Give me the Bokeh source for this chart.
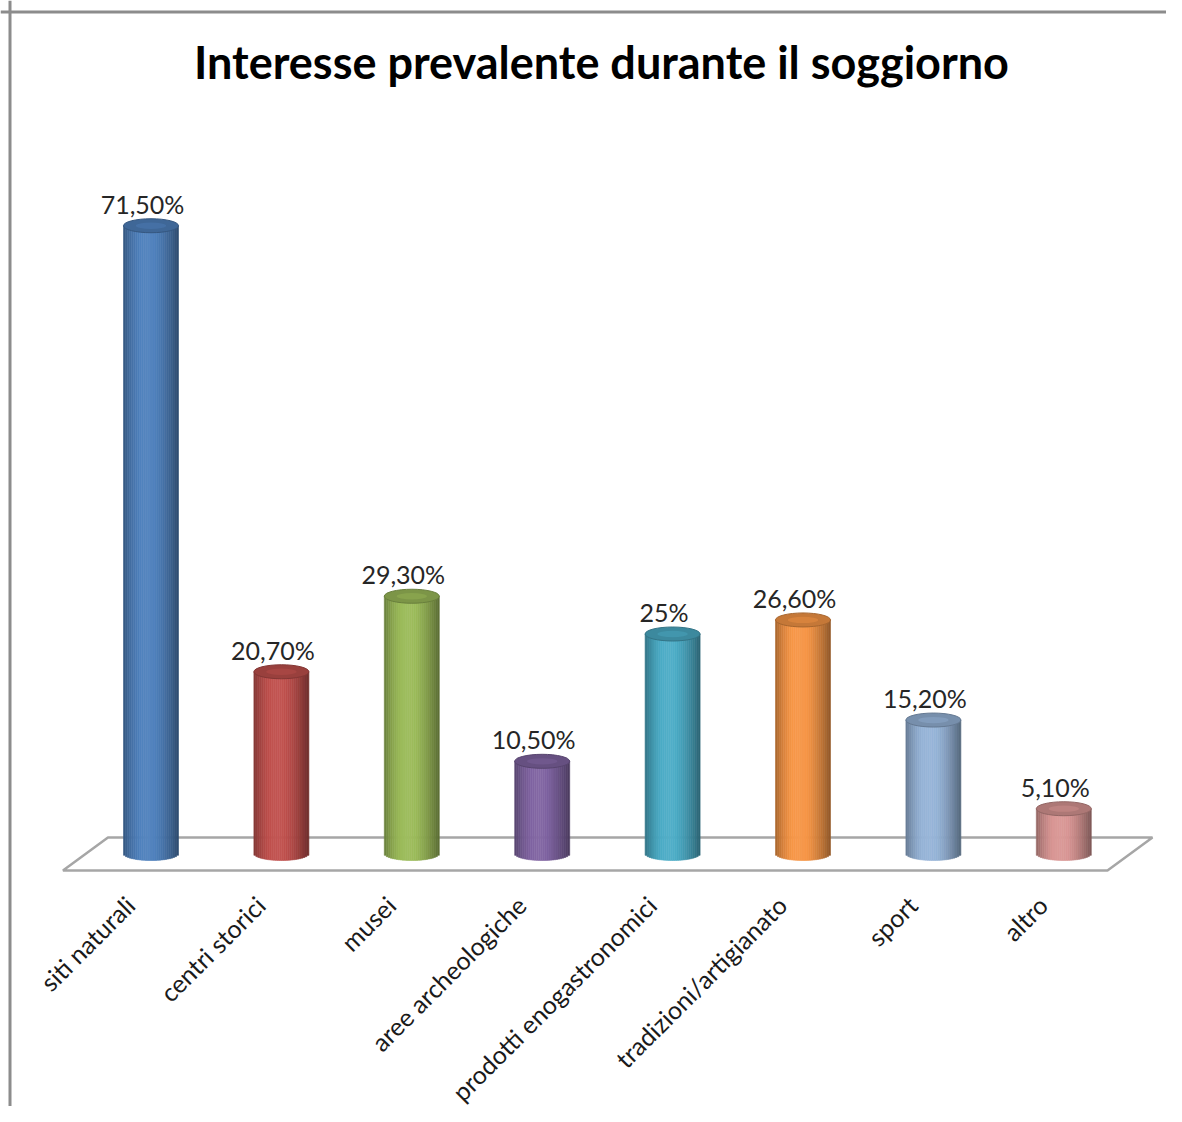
import numpy as np
from bokeh.plotting import figure
from bokeh.models import Range1d, Span, Label, ColumnDataSource
from bokeh.core.properties import value
from bokeh.embed import file_html
from bokeh.resources import INLINE

# ---------------- data ----------------
categories = ["siti naturali", "centri storici", "musei", "aree archeologiche",
              "prodotti enogastronomici", "tradizioni/artigianato", "sport", "altro"]
values = [71.5, 20.7, 29.3, 10.5, 25.0, 26.6, 15.2, 5.1]
value_labels = ["71,50%", "20,70%", "29,30%", "10,50%", "25%", "26,60%", "15,20%", "5,10%"]
colors = ["#4f81bd", "#c0504d", "#9bbb59", "#8064a2", "#4bacc6", "#f79646", "#95b3d7", "#d99694"]
title_text = "Interesse prevalente durante il soggiorno"

# ---------------- layout constants (pixels) ----------------
W, H = 1166, 1106
PX_CAT = 130.4      # pixels between category centres
PX_PCT = 8.78       # pixels per percentage point
X0_PX = 150.5       # pixel x of first category
Y0_PX = 853.0       # pixel y (from top) of the zero level
BAR_W_PX = 55.0
ELL_H_PX = 14.0
FONT = "Lato"

x_start = -X0_PX / PX_CAT
x_end = x_start + W / PX_CAT
y_end = Y0_PX / PX_PCT
y_start = (Y0_PX - H) / PX_PCT

p = figure(width=W, height=H, output_backend="svg", toolbar_location=None,
           x_range=Range1d(x_start, x_end), y_range=Range1d(y_start, y_end),
           min_border=0, min_border_left=0, min_border_right=0,
           min_border_top=0, min_border_bottom=0)
p.axis.visible = False
p.grid.visible = False
p.outline_line_color = None
p.background_fill_color = "white"
p.border_fill_color = "white"

# chart border (left + top)
p.add_layout(Span(location=x_start + 9.5 / PX_CAT, dimension="height",
                  line_color="#8c8c8c", line_width=3))
p.add_layout(Span(location=y_end - 11.5 / PX_PCT, dimension="width",
                  line_color="#8c8c8c", line_width=3))

# title
p.add_layout(Label(x=x_start + 601 / PX_CAT, y=y_end - 61 / PX_PCT, text=title_text,
                   text_align="center", text_baseline="alphabetic",
                   text_font=FONT, text_font_size="45px", text_font_style="bold",
                   text_color="black"))

n = len(categories)
idx = np.arange(n, dtype=float)

# floor (3-D plane)
floor_back = 1.82
floor_front = -1.94
floor_left = -0.33
floor_right = n - 0.32
shift = -0.345
p.patch([floor_left, floor_right, floor_right + shift, floor_left + shift],
        [floor_back, floor_back, floor_front, floor_front],
        fill_color="white", line_color="#a6a6a6", line_width=2.5)


def shade(hexcol, f):
    r, g, b = int(hexcol[1:3], 16), int(hexcol[3:5], 16), int(hexcol[5:7], 16)
    if f <= 1:
        r, g, b = r * f, g * f, b * f
    else:
        k = f - 1
        r, g, b = r + (255 - r) * k, g + (255 - g) * k, b + (255 - b) * k
    return "#%02x%02x%02x" % (int(max(0, min(255, r))), int(max(0, min(255, g))), int(max(0, min(255, b))))


def profile(t):
    # t in [0,1] across the cylinder from left to right
    peak = 0.45
    if t < peak:
        u = (peak - t) / peak
        return 1.04 - 0.36 * u ** 2
    u = (t - peak) / (1 - peak)
    return 1.04 - 0.46 * u ** 1.6


NS = 28
half_w = BAR_W_PX / 2 / PX_CAT
dw = 2 * half_w / NS
ell_semi = ELL_H_PX / 2 / PX_PCT

lefts, rights, bottoms, tops, cols = [], [], [], [], []
for i in range(n):
    for s in range(NS):
        l = idx[i] - half_w + s * dw
        tc = (s + 0.5) / NS
        rel = 2 * tc - 1
        lefts.append(l)
        rights.append(l + dw)
        bottoms.append(-ell_semi * np.sqrt(max(0.0, 1 - rel ** 2)))
        tops.append(values[i])
        cols.append(shade(colors[i], profile(tc)))

src = ColumnDataSource(dict(left=lefts, right=rights, bottom=bottoms, top=tops, color=cols))
p.quad(left="left", right="right", bottom="bottom", top="top", source=src,
       fill_color="color", line_color="color", line_width=0.6)

# top faces
top_src = ColumnDataSource(dict(x=idx, y=values,
                                fill=[shade(c, 0.8) for c in colors],
                                line=[shade(c, 0.68) for c in colors],
                                inner=[shade(c, 0.95) for c in colors]))
p.ellipse(x="x", y="y", width=BAR_W_PX, height=ELL_H_PX, width_units="screen",
          height_units="screen", source=top_src, fill_color="fill", line_color="line",
          line_width=1)
p.ellipse(x="x", y="y", width=BAR_W_PX * 0.55, height=ELL_H_PX * 0.45, width_units="screen",
          height_units="screen", source=top_src, fill_color="inner", line_color=None,
          fill_alpha=0.5)

# value labels
lab_src = ColumnDataSource(dict(x=idx, y=values, t=value_labels))
p.text(x="x", y="y", text="t", source=lab_src, x_offset=-8.5, y_offset=-22,
       text_align="center", text_baseline="alphabetic",
       text_font=value(FONT), text_font_size="25px", text_color="#262626")

# category labels
cat_src = ColumnDataSource(dict(x=idx, y=np.zeros(n), t=categories))
p.text(x="x", y="y", text="t", source=cat_src, angle=np.pi / 4,
       x_offset=-21, y_offset=47, text_align="right", text_baseline="middle",
       text_font=value(FONT), text_font_size="25px", text_color="#1a1a1a")

open("out.html", "w").write(file_html(p, INLINE))
